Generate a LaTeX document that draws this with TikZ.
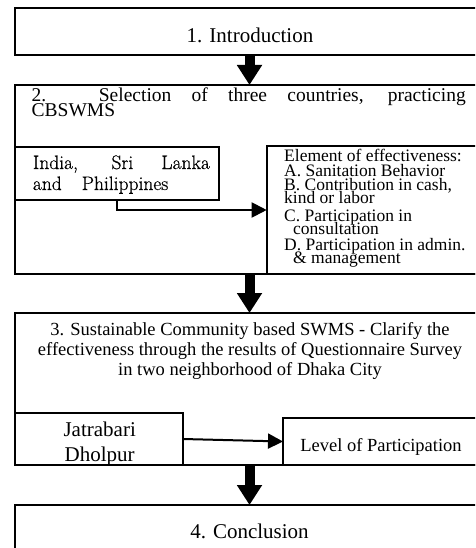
\documentclass[tikz,border=0pt]{standalone}
\usepackage{fontspec}
\newfontfamily\tnr{Liberation Serif}
\newfontfamily\lmr[FakeBold=0.6]{Latin Modern Roman}
\usetikzlibrary{arrows.meta}

\begin{document}
\begin{tikzpicture}[x=1pt,y=-1pt,
    box/.style={draw,line width=1.8pt,outer sep=0pt,inner sep=0pt,anchor=north west},
    bigarrow/.style={line width=10pt,-{Triangle[width=24pt,length=20pt]}},
    smallarrow/.style={line width=2pt,-{Triangle[width=15pt,length=15pt]}},
    bigtxt/.style={font=\tnr\fontsize{21}{25}\selectfont},
    midtxt/.style={font=\tnr\fontsize{18.5}{20}\selectfont},
    headtxt/.style={font={\tnr\fontsize{19.5}{14.8}\selectfont\lineskiplimit-20pt\relax}},
    elemtxt/.style={font={\tnr\fontsize{17.5}{13.3}\selectfont\lineskiplimit-20pt\relax}},
    indiatxt/.style={font=\lmr\fontsize{19.5}{21}\selectfont}]

    \useasboundingbox (0,0) rectangle (475,548);
    \clip (0,0) rectangle (475,548);
    \coordinate (axis) at (249.5,0);

    % Introduction
    \node[box,minimum width=471pt,minimum height=47pt] (intro) at (15,8) {};
    \node[bigtxt,anchor=base] (introtxt) at (250,43) {1. Introduction};

    % Selection of countries
    \node[box,minimum width=471pt,minimum height=189pt] (sel) at (15,85) {};
    \node[headtxt,anchor=base west,align=left,inner sep=0pt] (seltxt) at (31.5,116.3)
        {\makebox[434pt][s]{2. Selection of three countries, practicing}\\CBSWMS};

    \node[box,minimum width=204pt,minimum height=53pt] (india) at (15,147) {};
    \node[indiatxt,anchor=base west,align=left,inner sep=0pt] (indiatxt) at (32.7,190)
        {\makebox[177pt][s]{India, Sri Lanka}\\and\hspace{20pt}Philippines};

    \node[box,minimum width=219.3pt,minimum height=128pt] (elem) at (266.7,146) {};
    \node[elemtxt,anchor=base west,align=left,inner sep=0pt] (elemtxt) at (284,263.3)
        {Element of effectiveness:\\[1.7pt]
         A. Sanitation Behavior\\
         B. Contribution in cash,\\
         kind or labor\\[4.4pt]
         C. Participation in\\
         \hspace*{9pt}consultation\\[2.4pt]
         D. Participation in admin.\\
         \hspace*{9pt}\& management};

    \draw[smallarrow] (india.south) |- (elem.west);

    % Questionnaire survey
    \node[box,minimum width=471pt,minimum height=152pt] (sust) at (15,313) {};
    \node[midtxt,anchor=base,align=center,inner sep=0pt] (susttxt) at (250,375)
        {3. Sustainable Community based SWMS - Clarify the\\
         effectiveness through the results of Questionnaire Survey\\
         in two neighborhood of Dhaka City};

    \node[box,minimum width=168pt,minimum height=52pt] (jat) at (15,413) {};
    \node[bigtxt,anchor=base,align=center,inner sep=0pt] (jattxt) at (99.7,461) {Jatrabari\\Dholpur};

    \node[box,minimum width=203pt,minimum height=47pt] (lev) at (283,418) {};
    \node[midtxt,anchor=base,inner sep=0pt] (levtxt) at (381,451) {Level of Participation};

    \draw[smallarrow] (jat.east) -- (lev.west);

    % Conclusion
    \node[box,minimum width=471pt,minimum height=60pt] (concl) at (15,505) {};
    \node[bigtxt,anchor=base] (concltxt) at (249.5,538) {4. Conclusion};

    % Flow between the stages
    \draw[bigarrow] (axis |- intro.south) -- (axis |- sel.north);
    \draw[bigarrow] (axis |- sel.south) -- (axis |- sust.north);
    \draw[bigarrow] (axis |- sust.south) -- (axis |- concl.north);

\end{tikzpicture}
\end{document}
